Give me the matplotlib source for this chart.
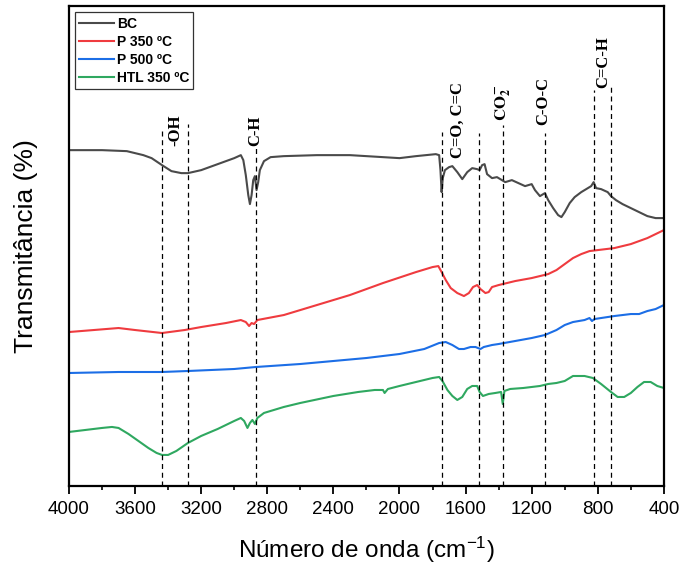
import matplotlib
matplotlib.use("Agg")
import matplotlib.pyplot as plt
from matplotlib.ticker import MultipleLocator

plt.rcParams['font.family'] = ['Liberation Sans', 'DejaVu Sans']
plt.rcParams['mathtext.fontset'] = 'custom'
plt.rcParams['mathtext.rm'] = 'Liberation Sans'
plt.rcParams['mathtext.it'] = 'Liberation Sans:italic'
plt.rcParams['mathtext.bf'] = 'Liberation Sans:bold'

# FTIR spectra (wavenumber cm-1, transmittance in arbitrary offset units)
bc_wn = [4000, 3800, 3650, 3550, 3500, 3437, 3380, 3320, 3280, 3200, 3100, 3000, 2960, 2945,
         2930, 2915, 2905, 2895, 2885, 2875, 2865, 2855, 2845, 2820, 2780, 2700, 2500, 2300,
         2100, 2000, 1900, 1780, 1760, 1752, 1745, 1738, 1725, 1700, 1680, 1650, 1620, 1590,
         1560, 1530, 1515, 1500, 1485, 1470, 1440, 1410, 1380, 1360, 1320, 1280, 1240, 1200,
         1180, 1150, 1120, 1100, 1070, 1040, 1020, 1000, 970, 940, 900, 860, 840, 825, 810,
         780, 740, 720, 690, 650, 600, 550, 500, 450, 400]
bc_t = [67.2, 67.2, 67.0, 66.2, 65.6, 64.2, 63.0, 62.6, 62.6, 63.2, 64.4, 65.6, 66.2, 65.2,
        62.2, 58.2, 56.4, 58.2, 61.2, 62.0, 59.2, 60.8, 63.2, 65.0, 65.8, 66.0, 66.2, 66.2,
        65.8, 65.6, 66.0, 66.4, 66.2, 63.2, 58.8, 61.6, 63.2, 63.8, 64.0, 62.8, 61.4, 62.8,
        63.6, 63.4, 63.2, 64.2, 64.4, 62.4, 61.6, 61.8, 61.2, 60.8, 61.2, 60.6, 60.0, 60.4,
        59.2, 58.0, 58.6, 57.2, 55.6, 54.2, 53.8, 54.8, 56.6, 57.8, 58.8, 59.6, 60.0, 60.8, 59.6,
        59.4, 58.8, 58.0, 57.2, 56.4, 55.6, 54.8, 54.0, 53.6, 53.6]

p350_wn = [4000, 3850, 3700, 3600, 3437, 3300, 3200, 3050, 2960, 2930, 2910, 2895, 2880, 2860,
           2700, 2500, 2300, 2100, 1900, 1800, 1765, 1745, 1720, 1690, 1650, 1610, 1580, 1555,
           1530, 1510, 1480, 1460, 1440, 1400, 1350, 1300, 1200, 1100, 1050, 1000, 950, 900,
           850, 800, 750, 700, 650, 600, 550, 500, 450, 400]
p350_t = [30.8, 31.2, 31.6, 31.2, 30.6, 31.2, 31.8, 32.6, 33.2, 32.8, 32.0, 32.6, 32.4, 33.2,
          34.2, 36.2, 38.2, 40.6, 42.8, 43.8, 44.0, 42.8, 41.2, 39.6, 38.6, 38.0, 38.6, 39.8,
          40.2, 39.4, 38.6, 38.8, 39.8, 40.2, 40.6, 41.0, 41.6, 42.4, 43.2, 44.4, 45.6, 46.4,
          47.0, 47.2, 47.4, 47.6, 48.0, 48.4, 49.0, 49.6, 50.4, 51.2]

p500_wn = [4000, 3700, 3437, 3280, 3000, 2869, 2600, 2400, 2200, 2000, 1850, 1760, 1720, 1680,
           1640, 1610, 1570, 1540, 1510, 1490, 1440, 1400, 1300, 1200, 1120, 1050, 1000, 950,
           880, 850, 835, 820, 780, 700, 600, 550, 500, 450, 400]
p500_t = [22.6, 22.8, 22.8, 23.0, 23.4, 23.8, 24.4, 25.0, 25.6, 26.4, 27.4, 28.6, 28.8, 28.2,
          27.4, 27.4, 27.8, 27.8, 27.4, 27.8, 28.2, 28.4, 29.0, 29.6, 30.2, 31.2, 32.2, 32.8,
          33.2, 33.6, 33.0, 33.4, 33.6, 34.0, 34.4, 34.4, 35.0, 35.4, 36.2]

htl_wn = [4000, 3900, 3800, 3740, 3700, 3640, 3580, 3520, 3470, 3437, 3400, 3350, 3280, 3200,
          3100, 3000, 2960, 2940, 2920, 2905, 2890, 2875, 2860, 2820, 2700, 2600, 2400, 2250,
          2150, 2100, 2090, 2070, 2000, 1900, 1800, 1760, 1740, 1710, 1680, 1650, 1620, 1590,
          1560, 1530, 1515, 1495, 1460, 1420, 1385, 1375, 1365, 1330, 1250, 1150, 1100, 1050,
          1000, 950, 880, 830, 780, 720, 680, 640, 600, 560, 520, 480, 440, 400]
htl_t = [10.8, 11.2, 11.6, 11.8, 11.6, 10.4, 9.0, 7.6, 6.6, 6.2, 6.2, 7.0, 8.6, 10.0,
         11.4, 13.0, 13.6, 13.0, 11.6, 12.6, 13.2, 12.4, 13.6, 14.6, 15.8, 16.6, 18.0, 18.8,
         19.2, 19.2, 18.6, 19.4, 20.0, 20.8, 21.6, 21.8, 21.0, 19.2, 18.0, 17.2, 17.8, 19.4,
         20.0, 20.0, 18.8, 18.0, 18.4, 18.6, 18.8, 16.4, 19.0, 19.4, 19.6, 20.0, 20.4, 20.6,
         21.0, 22.0, 22.0, 21.6, 20.4, 18.8, 17.8, 17.8, 18.6, 19.8, 20.8, 20.8, 20.0, 19.6]

# band markers: wavenumber and top of the dashed line
band_wn = [3437, 3280, 2869, 1743, 1519, 1374, 1120, 824, 721]
band_top = [71.6, 72.4, 67.8, 70.8, 70.6, 72.2, 70.6, 79.2, 80.2]

band_labels = ['-OH', 'C-H', 'C=O, C=C', r'$\mathbf{CO_2^-}$', 'C-O-C', 'C=C-H']
label_wn = [3359, 2875, 1647, 1374, 1132, 769]
label_y = [71.2, 71.0, 73.2, 76.8, 77.0, 84.8]

fig = plt.figure(figsize=(6.83, 5.67), dpi=100)
ax = fig.add_axes([0.101, 0.143, 0.871, 0.846])

ax.plot(bc_wn, bc_t, color='#4a4a4a', lw=1.5, label='BC')
ax.plot(p350_wn, p350_t, color='#ef3b3f', lw=1.5, label='P 350 \u00baC')
ax.plot(p500_wn, p500_t, color='#1c6ee6', lw=1.5, label='P 500 \u00baC')
ax.plot(htl_wn, htl_t, color='#2fa860', lw=1.5, label='HTL 350 \u00baC')

for wn, top in zip(band_wn, band_top):
    ax.plot([wn, wn], [0, top], color='black', lw=0.9, ls=(0, (4, 3)))

for lab, wn, y in zip(band_labels, label_wn, label_y):
    ax.text(wn, y, lab, rotation=90, ha='center', va='center', fontsize=12,
            fontweight='bold', family='Liberation Serif', math_fontfamily='stix')

ax.set_xlim(4000, 400)
ax.set_ylim(0, 96)
ax.xaxis.set_major_locator(MultipleLocator(400))
ax.xaxis.set_minor_locator(MultipleLocator(200))
ax.set_yticks([])
ax.tick_params(axis='x', which='major', direction='out', length=6, width=1.3,
               labelsize=13.5, pad=5)
ax.tick_params(axis='x', which='minor', direction='out', length=3, width=1.2)
for s in ax.spines.values():
    s.set_linewidth(1.6)

ax.set_xlabel('N\u00famero de onda (cm$^{-1}$)', fontsize=17.5, labelpad=12)
ax.set_ylabel('Transmit\u00e2ncia (%)', fontsize=19, labelpad=22)

leg = ax.legend(loc='upper left', prop={'weight': 'bold', 'size': 10}, frameon=True,
                fancybox=False, edgecolor='black', borderaxespad=0.45, handlelength=2.5,
                handletextpad=0.2, labelspacing=0.3, borderpad=0.3)
leg.get_frame().set_linewidth(0.9)

fig.savefig('out.png', dpi=100)
